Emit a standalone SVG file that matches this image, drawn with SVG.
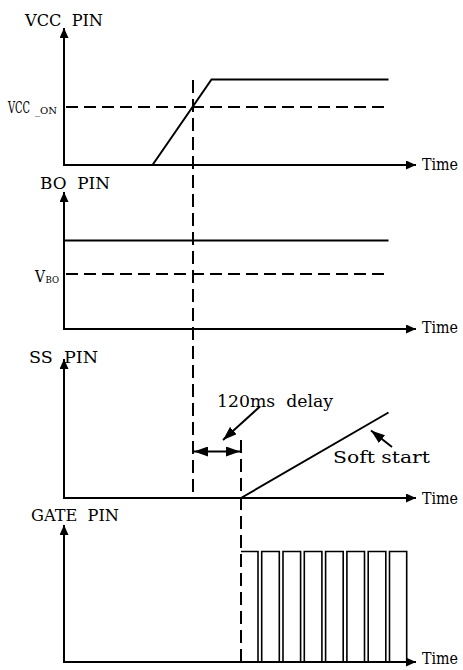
<svg xmlns="http://www.w3.org/2000/svg" width="463" height="670" viewBox="0 0 463 670">
<defs>
<marker id="ah" markerUnits="userSpaceOnUse" markerWidth="10" markerHeight="9" refX="10" refY="4.5" orient="auto-start-reverse"><path d="M0,0 L10,4.5 L0,9 z" fill="#000"/></marker>
<marker id="ah2" markerUnits="userSpaceOnUse" markerWidth="14" markerHeight="10" refX="14" refY="5" orient="auto-start-reverse"><path d="M0,0 L14,5 L0,10 z" fill="#000"/></marker>
<style>
.ax{stroke:#000;stroke-width:2;fill:none;marker-end:url(#ah)}
.sig{stroke:#000;stroke-width:2;fill:none}
.pul{stroke:#000;stroke-width:1.6;fill:none}
.dash{stroke:#000;stroke-width:2;fill:none;stroke-dasharray:12 6}
.vd{stroke:#000;stroke-width:2;fill:none;stroke-dasharray:13 6}
.lead{stroke:#000;stroke-width:2;fill:none;marker-end:url(#ah2)}
.t{font-family:'DejaVu Serif','Liberation Serif',serif;font-size:16px;font-weight:normal;fill:#000}
</style>
</defs>
<rect width="463" height="670" fill="#fff"/>
<g id="vcc-panel">
<line class="ax" x1="64" y1="166" x2="64" y2="28"/>
<line class="ax" x1="63" y1="165" x2="416" y2="165"/>
<text class="t" x="25" y="26" textLength="78" lengthAdjust="spacingAndGlyphs" xml:space="preserve">VCC  PIN</text>
<text class="t" x="8" y="112.5"><tspan textLength="22" lengthAdjust="spacingAndGlyphs">VCC</tspan><tspan x="35" dy="1" font-size="10" textLength="22" lengthAdjust="spacingAndGlyphs">_ON</tspan></text>
<text class="t" x="422" y="170" textLength="36" lengthAdjust="spacingAndGlyphs">Time</text>
<line class="dash" x1="66" y1="107" x2="386" y2="107"/>
<polyline class="sig" points="152.5,165 211.5,79.5 388.5,79.5"/>
</g>
<g id="bo-panel">
<line class="ax" x1="64" y1="330" x2="64" y2="192"/>
<line class="ax" x1="63" y1="329" x2="416" y2="329"/>
<text class="t" x="40" y="188.5" textLength="70" lengthAdjust="spacingAndGlyphs" xml:space="preserve">BO  PIN</text>
<text class="t" x="35" y="281.5"><tspan textLength="10" lengthAdjust="spacingAndGlyphs">V</tspan><tspan x="45.5" dy="1.5" font-size="10" textLength="13.5" lengthAdjust="spacingAndGlyphs">BO</tspan></text>
<text class="t" x="422" y="333" textLength="36" lengthAdjust="spacingAndGlyphs">Time</text>
<line class="sig" x1="64" y1="240.5" x2="388.5" y2="240.5"/>
<line class="dash" x1="66" y1="274" x2="386" y2="274"/>
</g>
<g id="ss-panel">
<line class="ax" x1="64" y1="499" x2="64" y2="359"/>
<line class="ax" x1="63" y1="498" x2="416" y2="498"/>
<text class="t" x="29" y="362.5" textLength="69" lengthAdjust="spacingAndGlyphs" xml:space="preserve">SS  PIN</text>
<text class="t" x="422" y="504" textLength="36" lengthAdjust="spacingAndGlyphs">Time</text>
<line class="sig" x1="241" y1="498" x2="388.5" y2="412.5"/>
<text class="t" x="217" y="406.5" textLength="116" lengthAdjust="spacingAndGlyphs" xml:space="preserve">120ms  delay</text>
<text class="t" x="333" y="462.5" textLength="97" lengthAdjust="spacingAndGlyphs">Soft start</text>
</g>
<g id="gate-panel">
<line class="ax" x1="64" y1="663" x2="64" y2="525"/>
<line class="ax" x1="63" y1="662" x2="416" y2="662"/>
<text class="t" x="31" y="520.5" textLength="88" lengthAdjust="spacingAndGlyphs" xml:space="preserve">GATE  PIN</text>
<text class="t" x="422" y="664" textLength="36" lengthAdjust="spacingAndGlyphs">Time</text>
<polyline class="pul" points="241,551.5 258,551.5 258,662 261.7,662 261.7,551.5 279.3,551.5 279.3,662 283,662 283,551.5 300.6,551.5 300.6,662 304.3,662 304.3,551.5 321.9,551.5 321.9,662 325.6,662 325.6,551.5 343.2,551.5 343.2,662 346.9,662 346.9,551.5 364.5,551.5 364.5,662 368.2,662 368.2,551.5 385.8,551.5 385.8,662 389.5,662 389.5,551.5 406.7,551.5 406.7,662"/>
</g>
<g id="connectors">
<line class="vd" x1="193" y1="80" x2="193" y2="496"/>
<line class="vd" x1="241" y1="440" x2="241" y2="662"/>
<line stroke="#000" stroke-width="2" marker-start="url(#ah2)" marker-end="url(#ah2)" x1="194" y1="451.5" x2="240" y2="451.5"/>
<line class="lead" x1="260" y1="406.5" x2="223" y2="440"/>
<line class="lead" x1="392" y1="447" x2="371" y2="430.5"/>
</g>
</svg>
